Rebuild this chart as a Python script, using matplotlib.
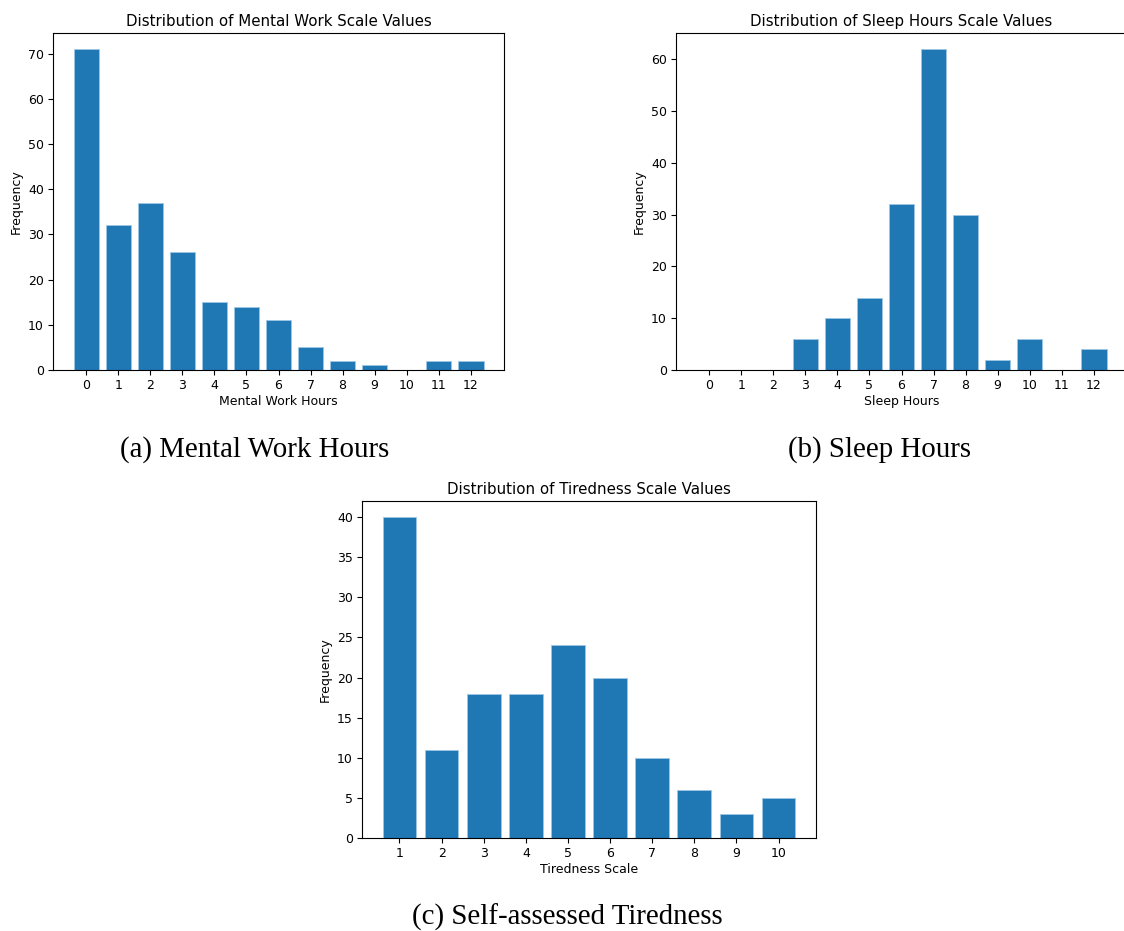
import matplotlib
matplotlib.use("Agg")
import matplotlib.pyplot as plt

# frequency counts per scale value
mental_hours = list(range(0, 13))
mental_freq = [71, 32, 37, 26, 15, 14, 11, 5, 2, 1, 0, 2, 2]

sleep_hours = list(range(0, 13))
sleep_freq = [0, 0, 0, 6, 10, 14, 32, 62, 30, 2, 6, 0, 4]

tiredness_scale = list(range(1, 11))
tiredness_freq = [40, 11, 18, 18, 24, 20, 10, 6, 3, 5]

W, H = 1124, 931
fig = plt.figure(figsize=(W / 100, H / 100), dpi=100)


def px_axes(left, top, right, bottom):
    # axes from pixel box
    return fig.add_axes([left / W, 1 - bottom / H, (right - left) / W, (bottom - top) / H])


def plot_dist(ax, x, y, title, xlabel):
    ax.bar(x, y, color="#1f77b4", edgecolor="#9ec6e6", linewidth=0.6)
    ax.set_xticks(x)
    ax.set_title(title, fontsize=10.8, pad=5)
    ax.set_xlabel(xlabel, fontsize=9, labelpad=2)
    ax.set_ylabel("Frequency", fontsize=9, labelpad=4)
    ax.tick_params(labelsize=9, length=3.5, pad=3)


ax1 = px_axes(53, 33, 504, 370)
plot_dist(ax1, mental_hours, mental_freq, "Distribution of Mental Work Scale Values", "Mental Work Hours")

# right panel runs off the edge of the figure
ax2 = px_axes(676, 33, 1127, 370)
ax2.spines["right"].set_visible(False)
plot_dist(ax2, sleep_hours, sleep_freq, "Distribution of Sleep Hours Scale Values", "Sleep Hours")

ax3 = px_axes(362, 501, 816, 838)
plot_dist(ax3, tiredness_scale, tiredness_freq, "Distribution of Tiredness Scale Values", "Tiredness Scale")

cap = dict(fontsize=20.8, family="Liberation Serif", ha="center", va="center")
fig.text(255 / W, 1 - 450 / H, "(a) Mental Work Hours", **cap)
fig.text(879 / W, 1 - 450 / H, "(b) Sleep Hours", **cap)
fig.text(567 / W, 1 - 917 / H, "(c) Self-assessed Tiredness", **cap)

fig.savefig("out.png", dpi=100)
